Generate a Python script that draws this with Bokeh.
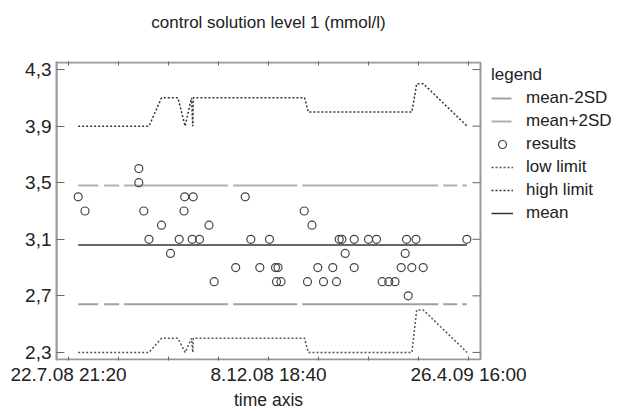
from bokeh.plotting import figure
from bokeh.layouts import column
from bokeh.models import FixedTicker, LinearAxis, Legend, LegendItem, Range1d
from bokeh.embed import file_html
from bokeh.resources import INLINE

title_text = "control solution level 1 (mmol/l)"
x_label = "time axis"
legend_title = "legend"

# x in days since 22.7.08 21:20
tick_days = [0, 34.72, 69.44, 104.17, 138.89, 173.61, 208.33, 243.06, 277.78]
tick_labels = ["22.7.08 21:20", "", "", "", "8.12.08 18:40", "", "", "", "26.4.09 16:00"]
y_ticks = [2.3, 2.7, 3.1, 3.5, 3.9, 4.3]
y_tick_labels = ["2,3", "2,7", "3,1", "3,5", "3,9", "4,3"]

result_days = [6.74, 11.46, 48.82, 48.82, 52.29, 55.90, 64.58, 70.83, 76.88, 80.21,
               80.69, 85.90, 86.60, 90.97, 97.57, 101.18, 116.11, 122.71, 126.60, 132.85,
               139.58, 143.75, 145.49, 144.44, 147.57, 163.68, 165.97, 169.10, 173.13, 177.08,
               183.54, 186.11, 187.99, 189.93, 192.15, 198.40, 198.40, 208.33, 213.89, 217.85,
               222.43, 226.74, 231.04, 233.82, 234.72, 235.90, 238.40, 241.32, 246.32, 276.60]
result_values = [3.4, 3.3, 3.6, 3.5, 3.3, 3.1, 3.2, 3.0, 3.1, 3.3,
                 3.4, 3.1, 3.4, 3.1, 3.2, 2.8, 2.9, 3.4, 3.1, 2.9,
                 3.1, 2.9, 2.9, 2.8, 2.8, 3.3, 2.8, 3.2, 2.9, 2.8,
                 2.9, 2.8, 3.1, 3.1, 3.0, 3.1, 2.9, 3.1, 3.1, 2.8,
                 2.8, 2.8, 2.9, 3.0, 3.1, 2.7, 2.9, 3.1, 2.9, 3.1]

line_days = [6.74, 276.6]
mean_value = [3.06, 3.06]
mean_plus_2sd = [3.48, 3.48]
mean_minus_2sd = [2.64, 2.64]

limit_days = [6.74, 55.9, 64.58, 76.0, 81.0, 85.4, 86.3, 86.7, 164.0, 166.5, 238.5, 241.8, 246.4, 276.8]
high_limit = [3.9, 3.9, 4.1, 4.1, 3.9, 4.1, 3.9, 4.1, 4.1, 4.0, 4.0, 4.2, 4.2, 3.9]
low_limit = [2.3, 2.3, 2.4, 2.4, 2.3, 2.4, 2.3, 2.4, 2.4, 2.3, 2.3, 2.6, 2.6, 2.3]

FONT = "Liberation Sans"
FRAME = "#9a9a9a"
TICK = "#666666"
TXT = "#222222"

# plot box (axis limits) and scale
X0, X1 = -8.33, 286.1
Y0, Y1 = 2.25, 4.35
PX_PER_DAY = 1.44
PX_PER_UNIT = 140.8
FRAME_W = 569
FRAME_H = 299


def text_strip(text, height, location, size, standoff):
    f = figure(width=625, height=height, output_backend="svg", toolbar_location=None,
               x_axis_type=None, y_axis_type=None, title=text, title_location=location,
               min_border_left=56, min_border_right=145, min_border_top=0, min_border_bottom=0)
    f.outline_line_color = None
    f.grid.visible = False
    f.title.text_font = FONT
    f.title.text_font_size = size
    f.title.text_font_style = "normal"
    f.title.align = "center"
    f.title.text_color = TXT
    f.title.standoff = standoff
    return f


# ---- title strip -------------------------------------------------------
tf = text_strip(title_text, 44, "above", "17px", 21)

# ---- main plot (frame extends under the legend) ------------------------
pad = 1.0 / PX_PER_UNIT
p = figure(frame_width=FRAME_W, frame_height=FRAME_H, output_backend="svg", toolbar_location=None,
           x_range=Range1d(X0, X0 + FRAME_W / PX_PER_DAY), y_range=Range1d(Y0 - pad, Y1 + pad),
           min_border_left=56, min_border_right=0, min_border_top=17, min_border_bottom=25)
p.grid.visible = False
p.outline_line_color = None
p.background_fill_color = "white"

xa = p.xaxis[0]
xa.ticker = FixedTicker(ticks=tick_days)
xa.major_label_overrides = {t: l for t, l in zip(tick_days, tick_labels)}
ya = p.yaxis[0]
ya.ticker = FixedTicker(ticks=y_ticks)
ya.major_label_overrides = {t: l for t, l in zip(y_ticks, y_tick_labels)}

for ax in (xa, ya):
    ax.axis_line_color = None
    ax.major_tick_line_color = TICK
    ax.major_tick_out = 0
    ax.minor_tick_line_color = None
    ax.major_label_text_font = FONT
    ax.major_label_text_font_size = "19px"
    ax.major_label_text_color = TXT
ya.axis_line_color = FRAME
ya.axis_line_width = 2
xa.major_tick_in = 4
ya.major_tick_in = 8
xa.major_label_standoff = 3
ya.major_label_standoff = 5

top = LinearAxis(ticker=FixedTicker(ticks=tick_days), major_label_text_color=None,
                 major_label_text_font_size="10px", major_label_standoff=0,
                 axis_line_color=None, major_tick_in=4, major_tick_out=0,
                 major_tick_line_color=TICK, minor_tick_line_color=None)
p.add_layout(top, "above")

# box around the plotting area and the inward ticks on its right side
p.quad(left=[X0], right=[X1], bottom=[Y0], top=[Y1], fill_color=None,
       line_color=FRAME, line_width=2)
p.segment(x0=[X1 - 8 / PX_PER_DAY] * len(y_ticks), y0=y_ticks,
          x1=[X1] * len(y_ticks), y1=y_ticks, line_color=TICK, line_width=1)

dash_pattern = "20 6 15 5 104 5 64 5 136 5 14 5 5"
r_minus = p.line(line_days, mean_minus_2sd, line_color="#a0a0a0", line_width=2, line_dash=dash_pattern)
r_plus = p.line(line_days, mean_plus_2sd, line_color="#b0b0b0", line_width=2, line_dash=dash_pattern)
r_res = p.scatter(result_days, result_values, marker="circle", size=8, fill_color=None,
                  line_color="#444444", line_width=1.2)
r_low = p.line(limit_days, low_limit, line_color="#555555", line_width=1.5, line_dash="2 2")
r_high = p.line(limit_days, high_limit, line_color="#333333", line_width=1.5, line_dash="2 2")
r_mean = p.line(line_days, mean_value, line_color="#333333", line_width=1.5)

legend = Legend(items=[
    LegendItem(label="mean-2SD", renderers=[r_minus]),
    LegendItem(label="mean+2SD", renderers=[r_plus]),
    LegendItem(label="results", renderers=[r_res]),
    LegendItem(label="low limit", renderers=[r_low]),
    LegendItem(label="high limit", renderers=[r_high]),
    LegendItem(label="mean", renderers=[r_mean]),
], location=(435, 137), title=legend_title)
legend.border_line_color = None
legend.background_fill_alpha = 0
legend.label_text_font = FONT
legend.label_text_font_size = "17px"
legend.label_text_color = TXT
legend.title_text_font = FONT
legend.title_text_font_size = "17px"
legend.title_text_font_style = "normal"
legend.title_text_color = TXT
legend.glyph_width = 22
legend.glyph_height = 20
legend.label_height = 20
legend.spacing = 3
legend.padding = 2
legend.margin = 0
legend.label_standoff = 13
legend.title_standoff = 3
p.add_layout(legend, "center")

# ---- x-axis title strip -------------------------------------------------
bf = text_strip(x_label, 22, "below", "17.5px", 0)

layout = column(tf, p, bf)
open("out.html", "w").write(file_html(layout, INLINE))
